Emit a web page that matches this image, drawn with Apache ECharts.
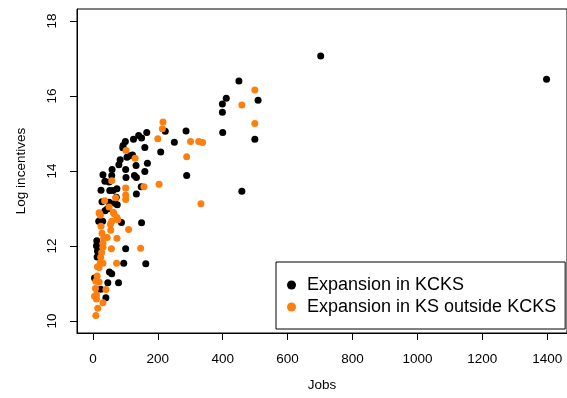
<!DOCTYPE html>
<html>
<head>
<meta charset="utf-8">
<script src="https://cdn.jsdelivr.net/npm/echarts@6/dist/echarts.min.js"></script>
<style>
  html, body { margin: 0; padding: 0; background: #fff; }
  #chart { width: 567px; height: 398px; }
</style>
</head>
<body>
<div id="chart"></div>
<script>
// [jobs, log incentives]
const kcks = [
    [1398, 16.45], [702, 17.07], [450, 16.40], [411, 15.94], [399, 15.79],
    [399, 15.57], [509, 15.89], [400, 15.03], [499, 14.85], [289, 13.88],
    [287, 15.07], [459, 13.46], [223, 15.06], [251, 14.77], [209, 14.51],
    [166, 15.03], [141, 14.95], [150, 14.88], [125, 14.85], [100, 14.79],
    [93, 14.68], [92, 14.62], [160, 14.63], [115, 14.41], [105, 14.37],
    [122, 14.43], [133, 14.15], [168, 14.21], [84, 14.30], [80, 14.17],
    [59, 14.04], [101, 14.04], [160, 13.99], [31, 13.90], [58, 13.88],
    [128, 13.88], [102, 13.83], [134, 13.83], [149, 13.58], [134, 13.39],
    [74, 13.53], [37, 13.73], [50, 13.71], [25, 13.49], [52, 13.48],
    [62, 13.48], [72, 13.30], [28, 13.18], [50, 13.17], [68, 13.14],
    [75, 13.10], [37, 12.94], [44, 12.99], [18, 12.66], [30, 12.66],
    [88, 12.63], [150, 12.62], [12, 12.14], [11, 12.01], [101, 11.93],
    [14, 11.87], [13, 11.71], [95, 11.54], [163, 11.53], [51, 11.31],
    [58, 11.26], [5, 11.15], [46, 11.02], [79, 11.02], [24, 10.85],
    [40, 10.62]
];
const ksOutside = [
    [499, 16.16], [459, 15.76], [499, 15.27], [301, 14.79], [326, 14.79],
    [338, 14.76], [289, 14.38], [333, 13.13], [216, 15.31], [214, 15.13],
    [200, 14.86], [102, 14.55], [130, 14.34], [204, 13.65], [157, 13.58],
    [101, 13.55], [101, 13.36], [101, 13.24], [58, 13.74], [36, 13.21],
    [50, 13.04], [63, 12.90], [74, 12.76], [19, 12.89], [23, 12.82],
    [58, 12.66], [77, 12.70], [54, 12.58], [25, 12.53], [55, 12.42],
    [110, 12.44], [28, 12.34], [33, 12.20], [44, 12.23], [74, 12.21],
    [57, 11.93], [147, 11.94], [31, 11.97], [31, 12.07], [27, 11.83],
    [24, 11.70], [23, 11.56], [19, 11.43], [14, 11.45], [31, 11.54],
    [73, 11.54], [13, 11.20], [9, 11.06], [19, 11.04], [8, 10.87],
    [11, 10.70], [40, 10.84], [5, 10.66], [11, 10.59], [31, 10.49],
    [15, 10.34], [9, 10.15], [70, 13.29], [65, 12.86], [21, 12.86]
];
const xTicks = [0, 200, 400, 600, 800, 1000, 1200, 1400];
const yTicks = [10, 12, 14, 16, 18];
const seriesNames = ['Expansion in KCKS', 'Expansion in KS outside KCKS'];

const font = 'Liberation Sans, Arial, Helvetica, sans-serif';

const option = {
    animation: false,
    grid: {
        left: 77, top: 9, right: -4, bottom: 65,
        show: true, borderColor: '#000', borderWidth: 1
    },
    legend: {
        data: seriesNames,
        orient: 'vertical',
        left: 276, top: 262,
        backgroundColor: '#fff',
        borderColor: '#000', borderWidth: 1, borderRadius: 0,
        padding: [13, 9, 12, 11],
        itemGap: 2,
        itemWidth: 21, itemHeight: 9,
        itemStyle: { borderWidth: 0 },
        textStyle: { fontFamily: font, fontSize: 18, color: '#000', lineHeight: 20 }
    },
    xAxis: {
        type: 'value',
        min: -49, max: 1461,
        name: 'Jobs', nameLocation: 'middle', nameGap: 45,
        nameTextStyle: { fontFamily: font, fontSize: 13.5, color: '#000' },
        splitLine: { show: false },
        axisLine: { show: true, onZero: false, lineStyle: { color: '#000' } },
        axisTick: { show: true, length: 7, lineStyle: { color: '#000' }, customValues: xTicks },
        axisLabel: {
            fontFamily: font, fontSize: 13.5, color: '#000', margin: 19,
            customValues: xTicks, formatter: v => String(v)
        }
    },
    yAxis: {
        type: 'value',
        min: 9.68, max: 18.32,
        name: 'Log incentives', nameLocation: 'middle', nameGap: 49,
        nameTextStyle: { fontFamily: font, fontSize: 13.5, color: '#000' },
        splitLine: { show: false },
        axisLine: { show: true, onZero: false, lineStyle: { color: '#000' } },
        axisTick: { show: true, length: 7, lineStyle: { color: '#000' }, customValues: yTicks },
        axisLabel: { fontFamily: font, fontSize: 13.5, color: '#000', margin: 18, rotate: 90, customValues: yTicks }
    },
    series: [{
        name: seriesNames[0],
        type: 'scatter',
        symbolSize: 7,
        itemStyle: { color: '#000', opacity: 1 },
        data: kcks
    }, {
        name: seriesNames[1],
        type: 'scatter',
        symbolSize: 7,
        itemStyle: { color: '#ff7f0e', opacity: 1 },
        data: ksOutside
    }]
};

echarts.init(document.getElementById('chart')).setOption(option);
</script>
</body>
</html>
